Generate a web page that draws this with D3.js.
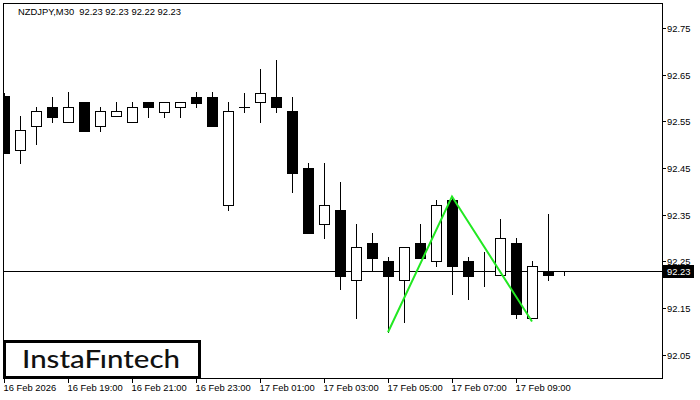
<!DOCTYPE html>
<html>
<head>
<meta charset="utf-8">
<script src="https://cdn.jsdelivr.net/npm/d3@7"></script>
<style>
  body { margin: 0; background: #fff; }
  svg { display: block; }
</style>
</head>
<body>
<div id="chart"></div>
<script>
// candle data, M30 bars starting 16 Feb 17:00
const opens = [92.604, 92.489, 92.541, 92.580, 92.549, 92.592, 92.541, 92.561, 92.549, 92.592, 92.571, 92.580,
  92.603, 92.603, 92.370, 92.580, 92.591, 92.602, 92.572, 92.450, 92.330, 92.360, 92.210, 92.290,
  92.251, 92.210, 92.290, 92.250, 92.382, 92.251, 92.230, 92.220, 92.290, 92.128, 92.229, 92.230];
const highs = [92.611, 92.562, 92.581, 92.603, 92.612, 92.592, 92.581, 92.592, 92.592, 92.592, 92.592, 92.592,
  92.612, 92.612, 92.592, 92.610, 92.662, 92.681, 92.602, 92.460, 92.460, 92.420, 92.330, 92.311,
  92.259, 92.280, 92.330, 92.382, 92.389, 92.259, 92.271, 92.341, 92.300, 92.251, 92.352, 92.230];
const lows = [92.482, 92.461, 92.502, 92.549, 92.549, 92.530, 92.530, 92.561, 92.549, 92.560, 92.560, 92.560,
  92.580, 92.541, 92.359, 92.571, 92.549, 92.571, 92.399, 92.310, 92.299, 92.190, 92.128, 92.230,
  92.098, 92.119, 92.258, 92.239, 92.180, 92.169, 92.198, 92.220, 92.128, 92.128, 92.210, 92.220];
const closes = [92.482, 92.532, 92.572, 92.560, 92.580, 92.530, 92.572, 92.572, 92.581, 92.580, 92.592, 92.592,
  92.590, 92.541, 92.572, 92.580, 92.610, 92.580, 92.440, 92.310, 92.370, 92.219, 92.280, 92.258,
  92.219, 92.280, 92.258, 92.371, 92.239, 92.219, 92.230, 92.300, 92.138, 92.240, 92.220, 92.230];

// axis labels
const priceTicks = [92.05, 92.15, 92.25, 92.35, 92.45, 92.55, 92.65, 92.75];
const timeTickBars = [0, 4, 8, 12, 16, 20, 24, 28, 32];
const timeTickLabels = ["16 Feb 2026", "16 Feb 19:00", "16 Feb 21:00", "16 Feb 23:00", "17 Feb 01:00",
  "17 Feb 03:00", "17 Feb 05:00", "17 Feb 07:00", "17 Feb 09:00"];

// double top pattern (bar index, price)
const patternBars = [24, 28, 33];
const patternPrices = [92.098, 92.389, 92.121];

const currentPrice = 92.23;
const title = "NZDJPY,M30  92.23 92.23 92.22 92.23";

const W = 700, H = 400;
const plot = { left: 3, top: 3, right: 662, bottom: 378 };
const font = "'Liberation Sans', Arial, sans-serif";

const svg = d3.select("#chart")
  .append("svg")
  .attr("width", W)
  .attr("height", H);

const x = d3.scaleLinear().domain([0, 1]).range([4, 20]); // 16px per bar
const y = d3.scaleLinear().domain([92.0, 92.8035]).range([plot.bottom, plot.top]);

// clip to the chart window
svg.append("clipPath").attr("id", "clip")
  .append("rect")
  .attr("x", plot.left).attr("y", plot.top)
  .attr("width", plot.right - plot.left).attr("height", plot.bottom - plot.top);

const g = svg.append("g").attr("clip-path", "url(#clip)").attr("shape-rendering", "crispEdges");

// current price line
g.append("line")
  .attr("x1", plot.left).attr("x2", plot.right)
  .attr("y1", Math.round(y(currentPrice)) + 0.5).attr("y2", Math.round(y(currentPrice)) + 0.5)
  .attr("stroke", "#000");

const bars = d3.range(opens.length).map((i) => ({
  i: i, o: opens[i], h: highs[i], l: lows[i], c: closes[i]
}));

const px = (i) => Math.round(x(i)) + 0.5;
const py = (v) => Math.round(y(v));

const candle = g.selectAll(".candle").data(bars).enter().append("g").attr("class", "candle");

// wicks
candle.append("line")
  .attr("x1", (d) => px(d.i)).attr("x2", (d) => px(d.i))
  .attr("y1", (d) => py(d.h)).attr("y2", (d) => py(d.l) + 1)
  .attr("stroke", "#000");

// bodies
candle.append("rect")
  .attr("x", (d) => px(d.i) - 5)
  .attr("width", 10)
  .attr("y", (d) => py(Math.max(d.o, d.c)) + 0.5)
  .attr("height", (d) => Math.max(0.01, py(Math.min(d.o, d.c)) - py(Math.max(d.o, d.c))))
  .attr("fill", (d) => (d.c < d.o ? "#000" : "#fff"))
  .attr("stroke", "#000")
  .attr("stroke-width", 1);

// pattern line
g.append("path")
  .datum(patternBars.map((b, k) => [b, patternPrices[k]]))
  .attr("d", d3.line().x((d) => x(d[0])).y((d) => y(d[1])))
  .attr("fill", "none")
  .attr("stroke", "#22e822")
  .attr("stroke-width", 2)
  .attr("shape-rendering", "auto");

// frame
svg.append("path")
  .attr("d", `M${plot.left + 0.5},${plot.bottom} V${plot.top + 0.5} H${plot.right + 0.5} V${plot.bottom + 0.5} H${plot.left}`)
  .attr("fill", "none")
  .attr("stroke", "#000")
  .attr("shape-rendering", "crispEdges");

// price axis
const yAxis = svg.append("g").attr("shape-rendering", "crispEdges");
priceTicks.forEach((p) => {
  const yy = py(p) + 0.5;
  yAxis.append("line")
    .attr("x1", plot.right).attr("x2", plot.right + 4)
    .attr("y1", yy).attr("y2", yy)
    .attr("stroke", "#000");
  yAxis.append("text")
    .attr("x", plot.right + 5).attr("y", yy + 3.5)
    .style("font-family", font).style("font-size", "9.4px")
    .style("fill", "#000")
    .text(p.toFixed(2));
});

// current price label
svg.append("rect")
  .attr("x", plot.right + 1).attr("y", py(currentPrice) - 6)
  .attr("width", 31).attr("height", 13)
  .attr("fill", "#000");
svg.append("text")
  .attr("x", plot.right + 5).attr("y", py(currentPrice) + 4)
  .style("font-family", font).style("font-size", "9.4px")
  .style("fill", "#fff")
  .text(currentPrice.toFixed(2));

// time axis
const xAxis = svg.append("g").attr("shape-rendering", "crispEdges");
timeTickBars.forEach((b, k) => {
  const xx = px(b);
  xAxis.append("line")
    .attr("x1", xx).attr("x2", xx)
    .attr("y1", plot.bottom).attr("y2", plot.bottom + 5)
    .attr("stroke", "#000");
  xAxis.append("text")
    .attr("x", xx - 1).attr("y", plot.bottom + 13)
    .style("font-family", font).style("font-size", "9.4px")
    .style("fill", "#000")
    .text(timeTickLabels[k]);
});

// title (keep the double space)
svg.append("text")
  .attr("x", 18).attr("y", 15)
  .style("font-family", font).style("font-size", "9.4px")
  .style("white-space", "pre")
  .style("fill", "#000")
  .text(title);

// logo
svg.append("rect")
  .attr("x", 4.5).attr("y", 341.5)
  .attr("width", 195).attr("height", 36)
  .attr("fill", "#fff")
  .attr("stroke", "#000")
  .attr("stroke-width", 3);
svg.append("text")
  .attr("x", 22).attr("y", 368)
  .attr("textLength", 158)
  .attr("lengthAdjust", "spacingAndGlyphs")
  .style("font-family", "Lato, 'Open Sans', sans-serif")
  .style("font-size", "25px")
  .style("font-weight", "500")
  .style("fill", "#111")
  .text("InstaFıntech");
</script>
</body>
</html>
